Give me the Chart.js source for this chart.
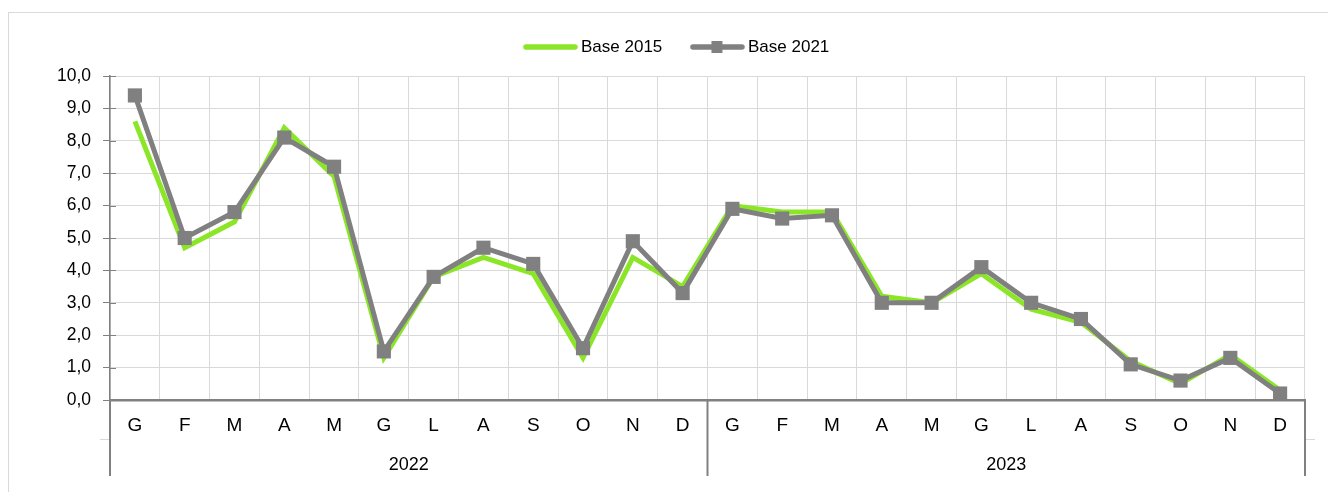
<!DOCTYPE html>
<html><head><meta charset="utf-8">
<script src="https://cdn.jsdelivr.net/npm/chart.js@4"></script>
<style>html,body{margin:0;padding:0;background:#fff;overflow:hidden}</style>
</head><body>
<canvas id="c" width="1328" height="492" style="display:block;width:1328px;height:492px"></canvas>
<script>
const months = ['G','F','M','A','M','G','L','A','S','O','N','D','G','F','M','A','M','G','L','A','S','O','N','D'];
const years = ['2022','2023'];
const seriesNames = ['Base 2015','Base 2021'];
const base2015 = [8.6,4.7,5.5,8.4,6.9,1.3,3.8,4.4,3.9,1.3,4.4,3.5,6.0,5.8,5.8,3.2,3.0,3.9,2.8,2.4,1.2,0.5,1.4,0.3];
const base2021 = [9.4,5.0,5.8,8.1,7.2,1.5,3.8,4.7,4.2,1.6,4.9,3.3,5.9,5.6,5.7,3.0,3.0,4.1,3.0,2.5,1.1,0.6,1.3,0.2];
const yMin = 0, yMax = 10, yStep = 1;

const GREEN = '#8ce628';
const GRAY = '#808080';
const GRID = '#d9d9d9';
const FONT = "'Liberation Sans', Arial, sans-serif";
const LEGEND_TOP = 26.5, PLOT_TOP = 76;

function legendImg(color, square){
  const c = document.createElement('canvas');
  c.width = 76; c.height = 16;
  const g = c.getContext('2d');
  g.strokeStyle = color; g.lineWidth = 5.5; g.lineCap = 'round';
  g.beginPath(); g.moveTo(24, 8); g.lineTo(73, 8); g.stroke();
  if (square){ g.fillStyle = color; g.fillRect(48 - 5.5, 8 - 6, 11, 12); }
  return c;
}
const legendImgs = [legendImg(GREEN, false), legendImg(GRAY, true)];

const legendHeightFix = {
  id: 'legendHeightFix',
  beforeLayout(chart){
    const lg = chart.legend;
    if (lg && !lg.__fixed){
      const orig = lg.fit;
      lg.fit = function(){ orig.call(this); this.height = PLOT_TOP - LEGEND_TOP; };
      lg.__fixed = true;
    }
  }
};

const decor = {
  id: 'decor',
  beforeDraw(chart){
    const ctx = chart.ctx;
    ctx.save();
    ctx.strokeStyle = GRID; ctx.lineWidth = 1;
    ctx.strokeRect(8.5, 12.5, 1400, 600);
    ctx.restore();
  },
  afterDraw(chart){
    const ctx = chart.ctx, xs = chart.scales.x, ys = chart.scales.y;
    const a = chart.chartArea;
    ctx.save();
    ctx.strokeStyle = GRAY; ctx.lineWidth = 1;
    for (let v = yMin; v <= yMax; v += yStep){
      const y = Math.round(ys.getPixelForValue(v)) + 0.5;
      ctx.beginPath(); ctx.moveTo(a.left, y); ctx.lineTo(a.left + 6, y); ctx.stroke();
    }
    ctx.strokeStyle = GRID;
    ctx.beginPath(); ctx.moveTo(a.left - 10, 439.5); ctx.lineTo(a.left, 439.5);
    ctx.moveTo(a.right, 439.5); ctx.lineTo(a.right + 10, 439.5); ctx.stroke();
    const per = months.length / years.length;
    const bounds = [];
    for (let i = 0; i <= years.length; i++){
      let x;
      if (i === 0) x = xs.left;
      else if (i === years.length) x = xs.right;
      else x = (xs.getPixelForValue(i*per - 1) + xs.getPixelForValue(i*per)) / 2;
      bounds.push(x);
    }
    ctx.strokeStyle = GRAY; ctx.lineWidth = 2;
    bounds.forEach(x => { ctx.beginPath(); ctx.moveTo(x, a.bottom); ctx.lineTo(x, 476); ctx.stroke(); });
    ctx.fillStyle = '#000'; ctx.font = '18px ' + FONT;
    ctx.textAlign = 'center'; ctx.textBaseline = 'middle';
    years.forEach((yr, i) => {
      const cx = (xs.getPixelForValue(i*per) + xs.getPixelForValue(i*per + per - 1)) / 2;
      ctx.fillText(yr, cx, 465);
    });
    ctx.restore();
  }
};

new Chart(document.getElementById('c'), {
  type: 'line',
  data: {
    labels: months,
    datasets: [
      { label: seriesNames[0], data: base2015, borderColor: GREEN, backgroundColor: GREEN,
        borderWidth: 5, pointRadius: 0, pointHoverRadius: 0, tension: 0, order: 1 },
      { label: seriesNames[1], data: base2021, borderColor: GRAY, backgroundColor: GRAY,
        borderWidth: 5, pointStyle: 'rect', pointRadius: 10, pointHoverRadius: 10,
        pointBorderWidth: 0, pointBackgroundColor: GRAY, tension: 0, order: 0 }
    ]
  },
  options: {
    responsive: false,
    animation: false,
    layout: { padding: { left: 31.6, right: 23, top: LEGEND_TOP, bottom: 0 } },
    plugins: {
      tooltip: { enabled: false },
      legend: {
        position: 'top', align: 'center',
        labels: {
          usePointStyle: true, pointStyleWidth: 65.2, padding: 12,
          color: '#000', font: { family: FONT, size: 17 },
          generateLabels: chart => chart.data.datasets.map((ds, i) => ({
            text: ds.label, pointStyle: legendImgs[i], fillStyle: 'transparent',
            strokeStyle: 'transparent', lineWidth: 0, hidden: !chart.isDatasetVisible(i),
            datasetIndex: i, fontColor: '#000'
          }))
        }
      }
    },
    scales: {
      x: {
        type: 'category', offset: true,
        grid: { offset: true, color: GRID, lineWidth: 1, drawTicks: false },
        border: { color: GRAY, width: 2.5 },
        ticks: { color: '#000', font: { family: FONT, size: 19 }, padding: 14.6, maxRotation: 0, autoSkip: false },
        afterFit: s => { s.height = 92; }
      },
      y: {
        min: yMin, max: yMax,
        grid: { color: GRID, lineWidth: 1, tickColor: GRAY, tickLength: 7 },
        border: { color: GRAY, width: 1.5 },
        ticks: { stepSize: yStep, color: '#000', font: { family: FONT, size: 17.5 }, padding: 12,
          callback: v => Number(v).toFixed(1).replace('.', ',') },
        afterFit: s => { s.width = 110 - 31.6; }
      }
    }
  },
  plugins: [legendHeightFix, decor]
});
</script>
</body></html>
